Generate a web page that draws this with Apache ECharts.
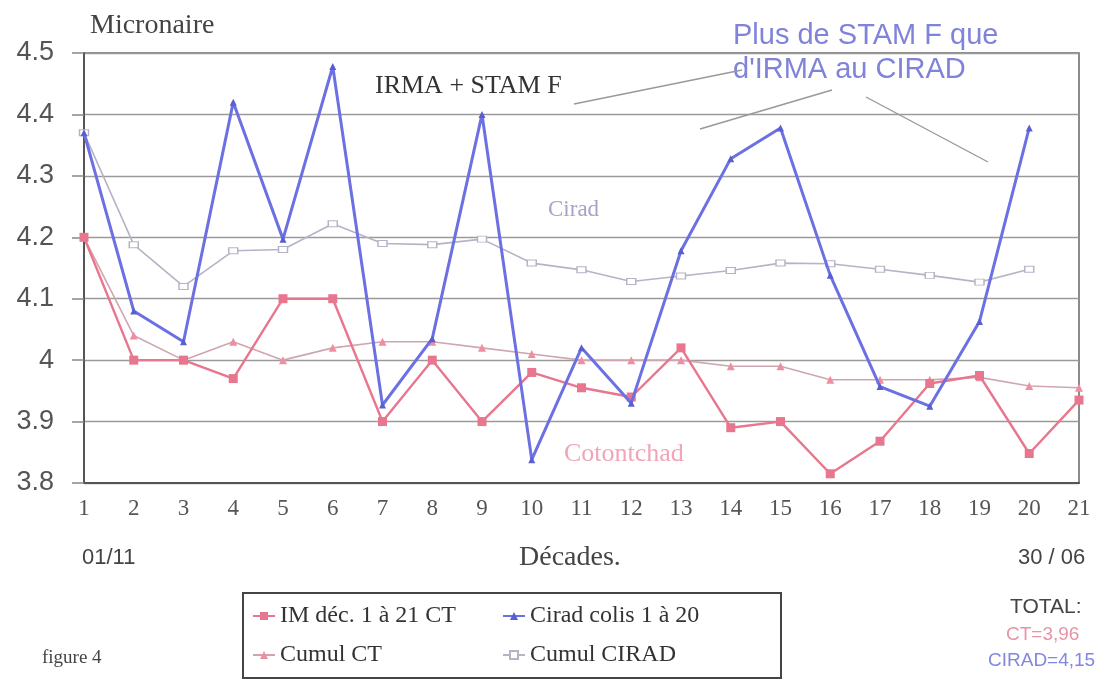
<!DOCTYPE html>
<html>
<head>
<meta charset="utf-8">
<script src="https://cdn.jsdelivr.net/npm/echarts@6/dist/echarts.min.js"></script>
<style>
html,body{margin:0;padding:0;background:#fff;}
#chart{width:1101px;height:684px;}
</style>
</head>
<body>
<div id="chart"></div>
<script>
// Categories (décades)
const decades = ['1','2','3','4','5','6','7','8','9','10','11','12','13','14','15','16','17','18','19','20','21'];
// Y ticks
const yMin = 3.8, yMax = 4.5, yStep = 0.1;
// Series values
const imCT = [4.20, 4.00, 4.00, 3.97, 4.10, 4.10, 3.90, 4.00, 3.90, 3.98, 3.955, 3.94, 4.02, 3.89, 3.90, 3.815, 3.868, 3.962, 3.975, 3.848, 3.935];
const ciradColis = [4.37, 4.08, 4.03, 4.42, 4.197, 4.478, 3.927, 4.035, 4.40, 3.838, 4.02, 3.93, 4.178, 4.328, 4.378, 4.138, 3.957, 3.925, 4.063, 4.378, null];
const cumulCT = [4.20, 4.04, 4.00, 4.03, 4.00, 4.02, 4.03, 4.03, 4.02, 4.01, 4.00, 4.00, 4.00, 3.99, 3.99, 3.968, 3.968, 3.968, 3.972, 3.958, 3.955];
const cumulCirad = [4.37, 4.188, 4.12, 4.178, 4.18, 4.222, 4.19, 4.188, 4.197, 4.158, 4.147, 4.128, 4.137, 4.146, 4.158, 4.157, 4.148, 4.138, 4.127, 4.148, null];
const seriesNames = ['IM déc. 1 à 21 CT', 'Cirad colis 1 à 20', 'Cumul CT', 'Cumul CIRAD'];

const SERIF = '"Liberation Serif", "DejaVu Serif", serif';
const SANS = '"Liberation Sans", Arial, sans-serif';
const PINK = '#e8768e', BLUE = '#6b70e2', GREYC = '#b4b4c6', CUMCT = '#cfa6b0';

const chart = echarts.init(document.getElementById('chart'), null, {renderer: 'canvas'});
chart.setOption({
  animation: false,
  backgroundColor: '#ffffff',
  grid: {left: 84, right: 22, top: 53, bottom: 201, show: true, borderColor: '#666', borderWidth: 1.5, containLabel: false},
  xAxis: {
    type: 'category', data: decades, boundaryGap: false,
    axisLine: {show: true, lineStyle: {color: '#555', width: 2}},
    axisTick: {show: false},
    axisLabel: {color: '#555', fontFamily: SERIF, fontSize: 23, margin: 14},
    splitLine: {show: false}
  },
  yAxis: {
    type: 'value', min: yMin, max: yMax, interval: yStep,
    axisLine: {show: true, lineStyle: {color: '#555', width: 2}},
    axisTick: {show: true, inside: false, length: 12, lineStyle: {color: '#888', width: 1.5}},
    axisLabel: {color: '#555', fontFamily: SANS, fontSize: 27, margin: 30, align: 'right'},
    splitLine: {show: true, lineStyle: {color: '#9a9a9a', width: 1.4}}
  },
  legend: [
    {data: [seriesNames[0], seriesNames[2]], orient: 'vertical', left: 252, top: 604, itemGap: 15,
     itemWidth: 22, itemHeight: 10, textStyle: {fontFamily: SERIF, fontSize: 24, color: '#333'}, padding: 0},
    {data: [seriesNames[1], seriesNames[3]], orient: 'vertical', left: 502, top: 604, itemGap: 15,
     itemWidth: 22, itemHeight: 10, textStyle: {fontFamily: SERIF, fontSize: 24, color: '#333'}, padding: 0}
  ],
  series: [
    {name: seriesNames[3], type: 'line', data: cumulCirad, symbol: 'rect', symbolSize: [9, 6],
     lineStyle: {color: GREYC, width: 1.6, type: 'solid'}, itemStyle: {color: '#ffffff', borderColor: GREYC, borderWidth: 1.2, borderType: 'solid'}, z: 2},
    {name: seriesNames[2], type: 'line', data: cumulCT, symbol: 'triangle', symbolSize: 8,
     lineStyle: {color: CUMCT, width: 1.6, type: 'solid'}, itemStyle: {color: '#ee8ea0'}, z: 3},
    {name: seriesNames[0], type: 'line', data: imCT, symbol: 'rect', symbolSize: 9,
     lineStyle: {color: PINK, width: 2.4, type: 'solid'}, itemStyle: {color: PINK}, z: 4},
    {name: seriesNames[1], type: 'line', data: ciradColis, symbol: 'triangle', symbolSize: 7,
     lineStyle: {color: BLUE, width: 3, type: 'solid'}, itemStyle: {color: '#5a5fd0'}, z: 5}
  ],
  graphic: [
    {type: 'text', left: 90, top: 12, style: {text: 'Micronaire', font: '28px ' + SERIF, fill: '#444'}},
    {type: 'text', left: 375, top: 73, style: {text: 'IRMA + STAM F', font: '26px ' + SERIF, fill: '#333'}},
    {type: 'text', left: 733, top: 19, style: {text: "Plus de STAM F que\nd'IRMA au CIRAD", font: '29px ' + SANS, fill: '#7f83d9', lineHeight: 34}},
    {type: 'line', shape: {x1: 574, y1: 104, x2: 742, y2: 70}, style: {stroke: '#999', lineWidth: 1.4}},
    {type: 'line', shape: {x1: 700, y1: 129, x2: 832, y2: 90}, style: {stroke: '#999', lineWidth: 1.4}},
    {type: 'line', shape: {x1: 866, y1: 97, x2: 988, y2: 162}, style: {stroke: '#999', lineWidth: 1.4}},
    {type: 'text', left: 548, top: 198, style: {text: 'Cirad', font: '23px ' + SERIF, fill: '#a4a4c8'}},
    {type: 'text', left: 564, top: 441, style: {text: 'Cotontchad', font: '26px ' + SERIF, fill: '#f0a6b6'}},
    {type: 'text', left: 82, top: 547, style: {text: '01/11', font: '22px ' + SANS, fill: '#444'}},
    {type: 'text', left: 519, top: 544, style: {text: 'Décades.', font: '28px ' + SERIF, fill: '#444'}},
    {type: 'text', left: 1018, top: 547, style: {text: '30 / 06', font: '22px ' + SANS, fill: '#444'}},
    {type: 'rect', shape: {x: 243, y: 593, width: 538, height: 85}, style: {fill: 'none', stroke: '#444', lineWidth: 2}, z: -1},
    {type: 'text', left: 42, top: 649, style: {text: 'figure 4', font: '19px ' + SERIF, fill: '#444'}},
    {type: 'text', left: 1010, top: 597, style: {text: 'TOTAL:', font: '21px ' + SANS, fill: '#444'}},
    {type: 'text', left: 1006, top: 625, style: {text: 'CT=3,96', font: '19px ' + SANS, fill: '#e994a6'}},
    {type: 'text', left: 988, top: 651, style: {text: 'CIRAD=4,15', font: '19px ' + SANS, fill: '#8387e0'}}
  ]
});
</script>
</body>
</html>
